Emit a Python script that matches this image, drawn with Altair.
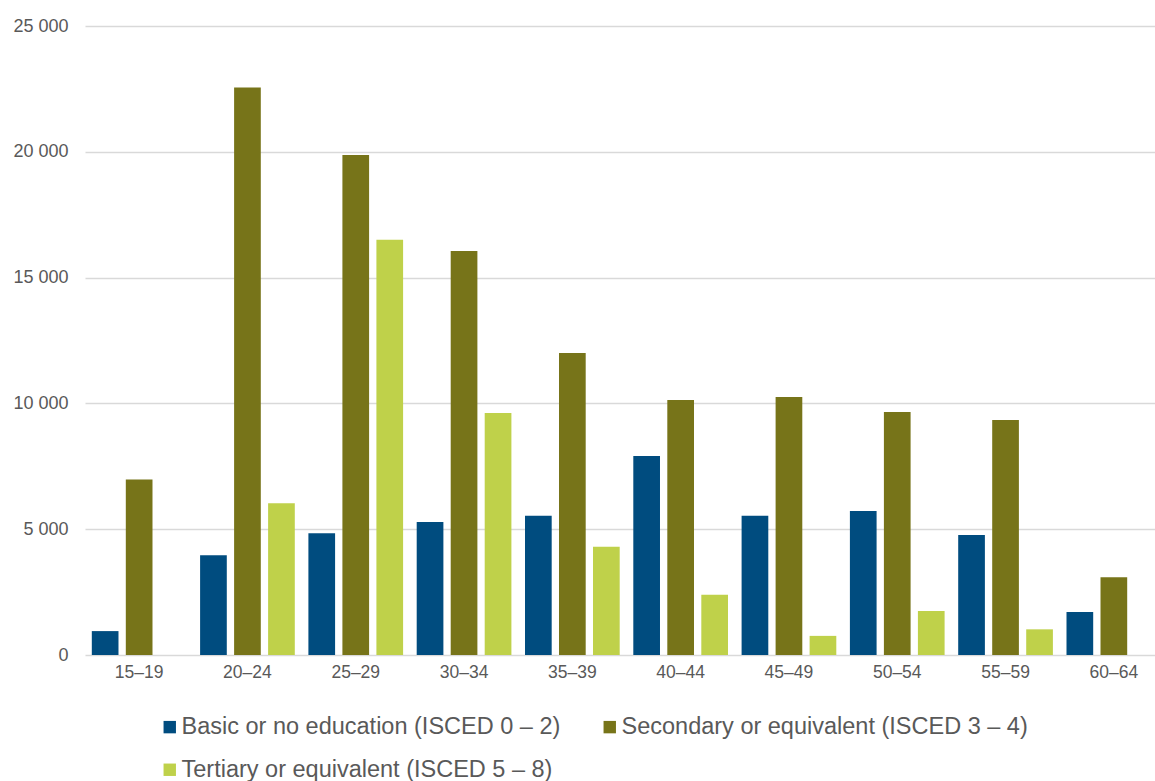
import altair as alt
import pandas as pd

age_groups = ["15–19", "20–24", "25–29", "30–34", "35–39",
              "40–44", "45–49", "50–54", "55–59", "60–64"]

series_names = [
    "Basic or no education (ISCED 0 – 2)",
    "Secondary or equivalent (ISCED 3 – 4)",
    "Tertiary or equivalent (ISCED 5 – 8)",
]

basic = [950, 3960, 4840, 5290, 5530, 7910, 5530, 5720, 4770, 1710]
secondary = [6980, 22560, 19870, 16060, 12000, 10140, 10250, 9660, 9340, 3090]
tertiary = [0, 6030, 16500, 9620, 4300, 2390, 760, 1750, 1020, 0]

colors = ["#004C7F", "#777419", "#BFD14A"]

rows = []
for name, values in zip(series_names, [basic, secondary, tertiary]):
    for age, v in zip(age_groups, values):
        if v > 0:
            rows.append({"age": age, "education": name, "count": v})
df = pd.DataFrame(rows)

text_color = "#595959"
font = "Liberation Sans"

bars = alt.Chart(df).mark_bar().encode(
    x=alt.X(
        "age:N",
        sort=age_groups,
        scale=alt.Scale(domain=age_groups, range=[0, 1083],
                        paddingInner=0.1256, paddingOuter=0.0628),
        axis=alt.Axis(title=None, labelAngle=0, domain=False, ticks=False,
                      labelFontSize=17.5, labelColor=text_color, labelFont=font,
                      labelPadding=8, grid=False),
    ),
    xOffset=alt.XOffset(
        "education:N",
        sort=series_names,
        scale=alt.Scale(domain=series_names, paddingInner=0.215, paddingOuter=0),
    ),
    y=alt.Y(
        "count:Q",
        scale=alt.Scale(domain=[0, 25000], nice=False),
        axis=alt.Axis(
            title=None, values=[0, 5000, 10000, 15000, 20000, 25000],
            labelExpr="datum.value == 0 ? '0' : format(datum.value / 1000, 'd') + ' 000'",
            domain=False, ticks=False, labelFontSize=18, labelColor=text_color,
            labelFont=font, labelPadding=17, gridColor="#D9D9D9", gridWidth=1.3,
        ),
    ),
    color=alt.Color(
        "education:N",
        sort=series_names,
        scale=alt.Scale(domain=series_names, range=colors),
        legend=alt.Legend(
            title=None, orient="none", legendX=73, legendY=689, columns=2,
            direction="horizontal",
            symbolType="square", symbolSize=154, symbolStrokeWidth=0,
            symbolOpacity=1, labelFontSize=23.5, labelColor=text_color,
            labelFont=font, labelLimit=0, labelOffset=0, columnPadding=37,
            rowPadding=18,
        ),
    ),
)

chart = bars.properties(
    width=1070,
    height=629,
    autosize=alt.AutoSizeParams(type="none"),
    padding={"left": 85, "top": 26, "right": 0, "bottom": 126},
    background="white",
).configure_view(stroke=None)

chart.save("out.html", embed_options={"renderer": "svg", "actions": False})
